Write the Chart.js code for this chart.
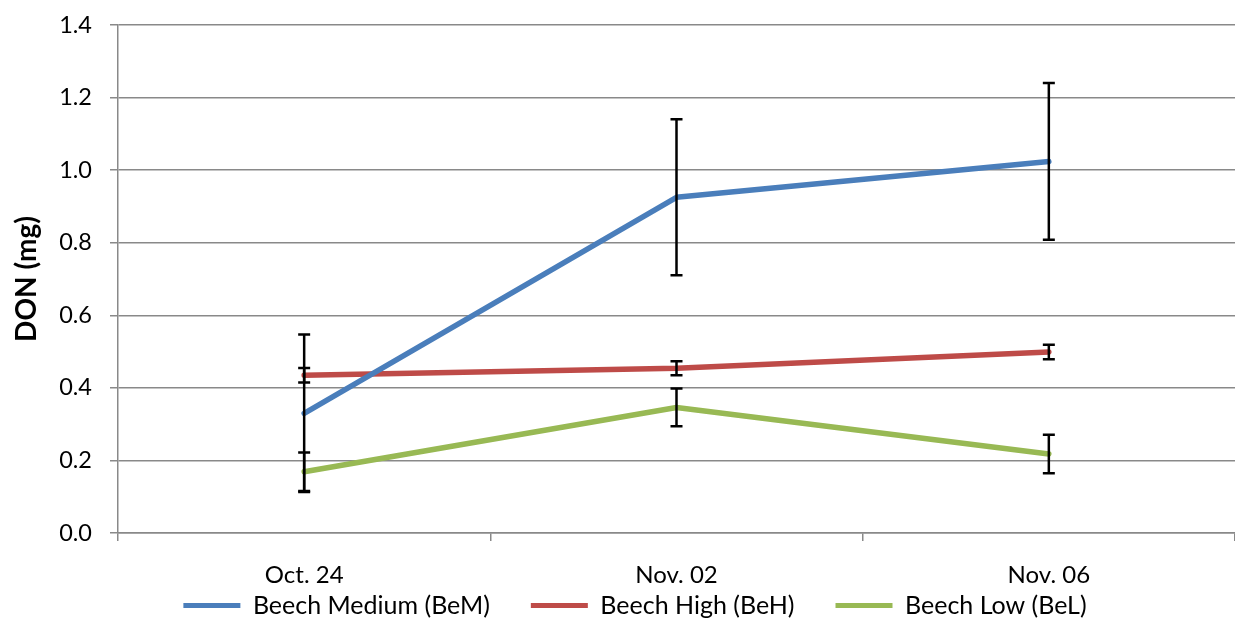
<!DOCTYPE html>
<html>
<head>
<meta charset="utf-8">
<script src="https://cdn.jsdelivr.net/npm/chart.js@4"></script>
<style>
  html, body { margin: 0; padding: 0; background: #fff; }
  #wrap { width: 1235px; height: 619px; }
</style>
</head>
<body>
<div id="wrap"><canvas id="donChart" width="1235" height="619"></canvas></div>
<script>
const dates = ["Oct. 24", "Nov. 02", "Nov. 06"];
const yTicks = [0, 0.2, 0.4, 0.6, 0.8, 1.0, 1.2, 1.4];

const beechMedium = [0.330, 0.925, 1.024];
const beechMediumErr = [0.217, 0.215, 0.216];
const beechHigh = [0.435, 0.454, 0.499];
const beechHighErr = [0.020, 0.019, 0.020];
const beechLow = [0.169, 0.346, 0.218];
const beechLowErr = [0.053, 0.052, 0.053];

const fontFam = "Lato, 'Open Sans', sans-serif";

// black error bars drawn over the lines
const errorBars = {
    id: "errorBars",
    afterDatasetsDraw(chart) {
        const ctx = chart.ctx;
        const y = chart.scales.y;
        ctx.save();
        ctx.strokeStyle = "#000";
        ctx.lineWidth = 2.5;
        chart.data.datasets.forEach((ds, i) => {
            const meta = chart.getDatasetMeta(i);
            meta.data.forEach((pt, j) => {
                const v = ds.data[j], e = ds.errors[j];
                const top = y.getPixelForValue(v + e);
                const bot = y.getPixelForValue(v - e);
                ctx.beginPath();
                ctx.moveTo(pt.x, top); ctx.lineTo(pt.x, bot);
                ctx.moveTo(pt.x - 6, top); ctx.lineTo(pt.x + 6, top);
                ctx.moveTo(pt.x - 6, bot); ctx.lineTo(pt.x + 6, bot);
                ctx.stroke();
            });
        });
        ctx.restore();
    }
};

// wide gaps between legend items without a tall legend box
const legendPlace = {
    id: "legendPlace",
    beforeUpdate(chart) {
        const lg = chart.legend;
        if (!lg || lg._fitPatched) return;
        const orig = lg.fit;
        lg.fit = function () {
            orig.call(this);
            this.height = 26;
        };
        lg._fitPatched = true;
    },
    afterLayout(chart) {
        const lg = chart.legend;
        if (!lg) return;
        lg.top = 552;
        lg.bottom = 619;
        lg.left += 16;
        lg.right += 16;
    }
};

function series(label, data, errors, color) {
    return {
        label: label,
        data: data,
        errors: errors,
        borderColor: color,
        backgroundColor: color,
        borderWidth: 5.5,
        borderJoinStyle: "round",
        borderCapStyle: "round",
        pointRadius: 0,
        tension: 0
    };
}

new Chart(document.getElementById("donChart"), {
    type: "line",
    data: {
        labels: dates,
        datasets: [
            series("Beech Medium (BeM)", beechMedium, beechMediumErr, "#4a7ebb"),
            series("Beech High (BeH)", beechHigh, beechHighErr, "#be4b48"),
            series("Beech Low (BeL)", beechLow, beechLowErr, "#98b954")
        ]
    },
    options: {
        responsive: false,
        animation: false,
        layout: { padding: { top: 25, right: -3, left: 0, bottom: 0 } },
        plugins: {
            tooltip: { enabled: false },
            legend: {
                position: "bottom",
                labels: {
                    color: "#000",
                    font: { family: fontFam, size: 25 },
                    boxWidth: 57,
                    boxHeight: 5,
                    padding: 41,
                    generateLabels(chart) {
                        return chart.data.datasets.map((ds, i) => ({
                            text: ds.label,
                            fillStyle: ds.borderColor,
                            strokeStyle: ds.borderColor,
                            lineWidth: 0,
                            hidden: false,
                            datasetIndex: i
                        }));
                    }
                }
            }
        },
        scales: {
            x: {
                offset: true,
                afterFit(scale) { scale.height = 60; },
                grid: {
                    offset: true,
                    drawOnChartArea: false,
                    drawTicks: true,
                    tickLength: 8,
                    color: "#898989",
                    lineWidth: 1.5
                },
                border: { color: "#898989", width: 1.5 },
                ticks: {
                    color: "#000",
                    font: { family: fontFam, size: 24 },
                    padding: 20
                }
            },
            y: {
                min: 0,
                max: 1.4,
                afterFit(scale) {
                    scale.width = 118;
                    scale.paddingTop = 0;
                    scale.paddingBottom = 0;
                },
                afterBuildTicks(scale) { scale.ticks = yTicks.map(v => ({ value: v })); },
                grid: { color: "#898989", tickLength: 8, lineWidth: 1.5 },
                border: { color: "#898989", width: 1.5 },
                ticks: {
                    color: "#000",
                    font: { family: fontFam, size: 23.5 },
                    padding: 18,
                    callback: v => Number(v).toFixed(1)
                },
                title: {
                    display: true,
                    text: "DON (mg)",
                    color: "#000",
                    font: { family: fontFam, size: 28, weight: "bold" },
                    padding: { top: 10, bottom: 0 }
                }
            }
        }
    },
    plugins: [errorBars, legendPlace]
});
</script>
</body>
</html>
